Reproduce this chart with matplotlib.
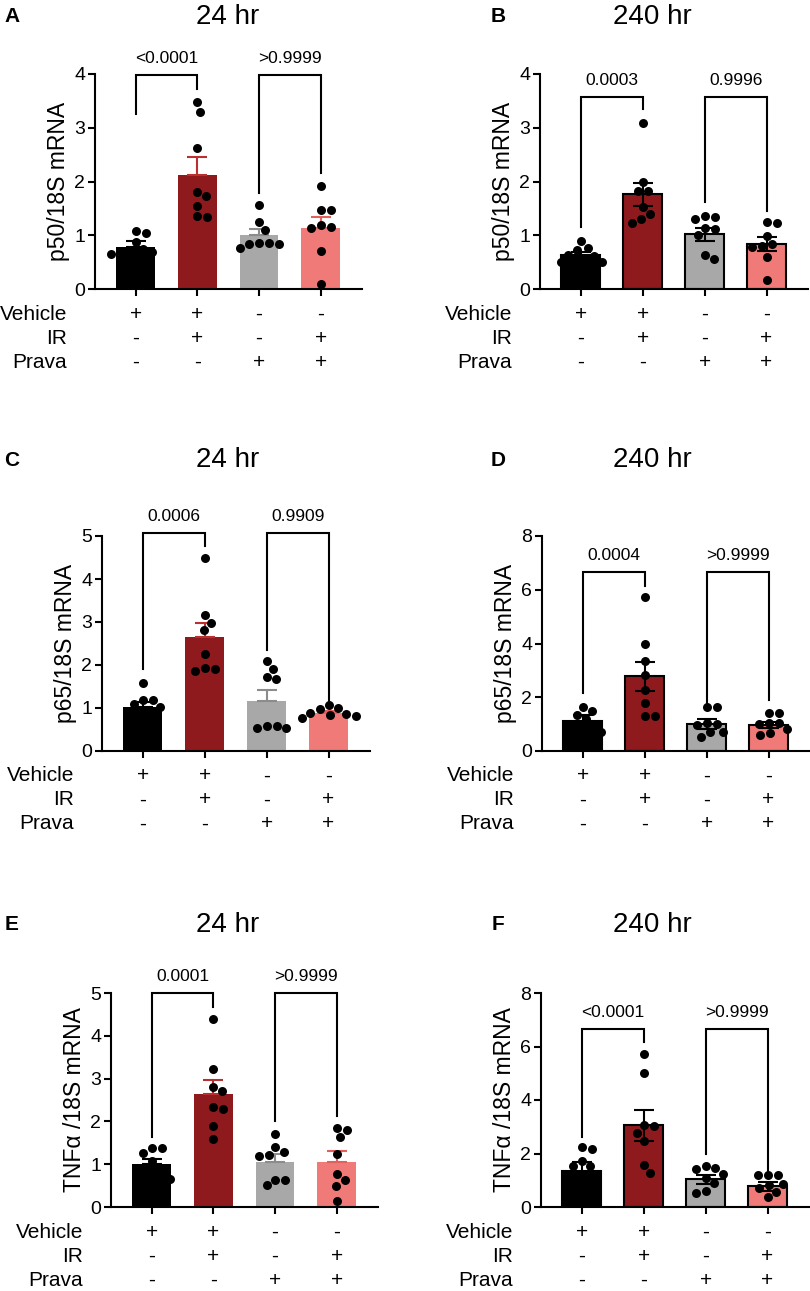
import numpy as np
import matplotlib.pyplot as plt

plt.rcParams['font.family'] = ['Liberation Sans', 'DejaVu Sans']

W, H = 810, 1291

# ---------------- data ----------------
conditions = ['Vehicle', 'IR', 'Prava']
signs = [['+', '+', '-', '-'],
         ['-', '+', '-', '+'],
         ['-', '-', '+', '+']]
bar_colors = ['#000000', '#8e1a1e', '#a8a8a8', '#f07a78']
err_colors = ['#000000', '#b8302f', '#8c8c8c', '#e2605e']

# A: p50, 24 hr
a_points = [[1.05, 1.08, 0.88, 0.75, 0.70, 0.65, 0.72, 0.68],
            [3.48, 3.30, 2.63, 1.81, 1.73, 1.55, 1.34, 1.36],
            [1.56, 1.24, 1.09, 0.83, 0.85, 0.85, 0.77, 0.84],
            [1.92, 1.47, 1.47, 1.19, 1.16, 1.13, 0.71, 0.09]]
a_means = [0.79, 2.13, 1.01, 1.13]
a_sems = [0.10, 0.32, 0.11, 0.21]
a_pvals = ['<0.0001', '>0.9999']
a_bracket = [3.98, (3.26, 3.72), (1.79, 2.16)]

# B: p50, 240 hr
b_points = [[0.77, 0.89, 0.72, 0.63, 0.61, 0.55, 0.50, 0.50],
            [3.09, 1.99, 1.83, 1.83, 1.52, 1.39, 1.23, 1.30],
            [1.34, 1.35, 1.30, 1.14, 1.11, 1.00, 0.63, 0.55],
            [1.23, 1.24, 0.99, 0.83, 0.78, 0.80, 0.60, 0.16]]
b_means = [0.63, 1.76, 1.02, 0.83]
b_sems = [0.06, 0.22, 0.12, 0.13]
b_pvals = ['0.0003', '0.9996']
b_bracket = [3.57, (1.16, 3.35), (1.62, 1.45)]

# C: p65, 24 hr
c_points = [[1.59, 1.19, 1.19, 1.09, 1.03, 0.85, 0.80, 0.75],
            [4.50, 3.16, 2.98, 2.81, 2.26, 1.87, 1.94, 1.90],
            [2.09, 1.91, 1.67, 1.71, 0.53, 0.57, 0.57, 0.54],
            [1.07, 0.97, 0.99, 0.81, 0.84, 0.76, 0.85, 0.89]]
c_means = [1.03, 2.64, 1.16, 0.88]
c_sems = [0.12, 0.34, 0.27, 0.05]
c_pvals = ['0.0006', '0.9909']
c_bracket = [5.07, (1.90, 4.77), (2.35, 1.12)]

# D: p65, 240 hr
d_points = [[1.65, 1.49, 1.34, 1.18, 0.93, 0.90, 0.80, 0.70],
            [5.72, 3.98, 3.36, 2.83, 2.27, 1.77, 1.30, 1.30],
            [1.63, 1.65, 1.05, 1.02, 0.98, 0.72, 0.70, 0.53],
            [1.43, 1.43, 0.99, 1.03, 1.03, 0.82, 0.60, 0.66]]
d_means = [1.13, 2.78, 1.00, 0.97]
d_sems = [0.21, 0.55, 0.20, 0.12]
d_pvals = ['0.0004', '>0.9999']
d_bracket = [6.66, (2.16, 6.13), (1.56, 1.90)]

# E: TNFa, 24 hr
e_points = [[1.39, 1.39, 1.26, 1.07, 0.78, 0.76, 0.70, 0.65],
            [4.40, 3.23, 2.70, 2.80, 2.29, 2.34, 1.89, 1.59],
            [1.71, 1.40, 1.29, 1.22, 1.19, 0.64, 0.64, 0.51],
            [1.85, 1.81, 1.63, 1.25, 0.76, 0.62, 0.49, 0.13]]
e_means = [1.00, 2.63, 1.05, 1.04]
e_sems = [0.13, 0.33, 0.18, 0.26]
e_pvals = ['0.0001', '>0.9999']
e_bracket = [5.00, (1.64, 4.67), (2.00, 2.13)]

# F: TNFa, 240 hr
f_points = [[2.24, 2.18, 1.71, 1.52, 1.52, 0.80, 0.60, 0.50],
            [5.73, 5.01, 3.05, 3.02, 2.78, 2.45, 1.56, 1.28],
            [1.42, 1.45, 1.52, 1.22, 1.08, 0.90, 0.54, 0.59],
            [1.18, 1.18, 1.18, 0.87, 0.81, 0.72, 0.56, 0.37]]
f_means = [1.33, 3.06, 1.03, 0.77]
f_sems = [0.35, 0.58, 0.16, 0.16]
f_pvals = ['<0.0001', '>0.9999']
f_bracket = [6.65, (2.62, 6.17), (2.00, 1.27)]


def swarm(vals, ppx, ppy, d):
    # simple beeswarm, offsets in data units along x
    vals = np.asarray(vals)
    order = np.argsort(-vals)
    placed = []
    xs = np.zeros(len(vals))
    for i in order:
        y = vals[i] * ppy
        cands = [0.0]
        for px, py in placed:
            dy = y - py
            if abs(dy) < d:
                dx = np.sqrt(d * d - dy * dy)
                cands += [px + dx, px - dx]
        cands.sort(key=abs)
        for c in cands:
            if all((c - px) ** 2 + (y - py) ** 2 >= d * d - 1e-6 for px, py in placed):
                xs[i] = c
                break
        placed.append((xs[i], y))
    return xs / ppx


def draw_panel(rect, points, means, sems, ylabel, ymax, ystep, pvals, bracket, outline):
    x0, y0, x1, y1 = rect
    ax = fig.add_axes([x0 / W, 1 - y1 / H, (x1 - x0) / W, (y1 - y0) / H])
    xlim = (-0.66, 3.67)
    ax.set_xlim(*xlim)
    ax.set_ylim(0, ymax)
    ppx = (x1 - x0) / (xlim[1] - xlim[0])
    ppy = (y1 - y0) / ymax
    x = np.arange(4)

    if outline:
        ax.bar(x, means, width=0.63, color=bar_colors, edgecolor='black', linewidth=1.5, zorder=2)
        for i in range(4):
            ax.errorbar(x[i], means[i], yerr=sems[i], fmt='none', ecolor='black',
                        elinewidth=1.5, capsize=7.5, capthick=1.5, zorder=3)
    else:
        ax.bar(x, means, width=0.63, color=bar_colors, linewidth=0, zorder=2)
        for i in range(4):
            ax.errorbar(x[i], means[i], yerr=[[0], [sems[i]]], fmt='none', ecolor=err_colors[i],
                        elinewidth=1.5, capsize=7.5, capthick=1.5, zorder=3)

    for i in range(4):
        offs = swarm(points[i], ppx, ppy, 10)
        ax.scatter(x[i] + offs, points[i], s=42, color='black', linewidths=0, zorder=4, clip_on=False)

    # significance brackets
    top, legs1, legs2 = bracket
    for (xa, xb), legs, p in zip([(0, 1), (2, 3)], [legs1, legs2], pvals):
        ax.plot([xa, xa, xb, xb], [legs[0], top, top, legs[1]], color='black', lw=1.5,
                clip_on=False, solid_joinstyle='miter', zorder=5)
        ax.annotate(p, xy=((xa + xb) / 2, top), xytext=(0, 9), textcoords='offset pixels',
                    ha='center', va='bottom', fontsize=12.5, annotation_clip=False)

    for s in ['top', 'right']:
        ax.spines[s].set_visible(False)
    for s in ['left', 'bottom']:
        ax.spines[s].set_linewidth(1.5)
    ax.spines['left'].set_bounds(0, ymax)
    ax.set_yticks(np.arange(0, ymax + 0.01, ystep))
    ax.set_yticklabels([str(int(v)) for v in np.arange(0, ymax + 0.01, ystep)])
    ax.set_xticks(x)
    ax.set_xticklabels([])
    ax.tick_params(axis='both', direction='out', length=5, width=1.5, labelsize=14, pad=2)
    ax.set_ylabel(ylabel, fontsize=16.5, labelpad=3)

    # condition table under the axis
    for r, name in enumerate(conditions):
        dy = -25 - 24 * r
        ax.annotate(name, xy=(xlim[0], 0), xycoords=ax.get_xaxis_transform(),
                    xytext=(-28, dy), textcoords='offset pixels',
                    ha='right', va='center', fontsize=15, annotation_clip=False)
        for i in range(4):
            ax.annotate(signs[r][i], xy=(x[i], 0), xycoords=ax.get_xaxis_transform(),
                        xytext=(0, dy), textcoords='offset pixels',
                        ha='center', va='center', fontsize=15, annotation_clip=False)
    return ax


fig = plt.figure(figsize=(W / 100, H / 100), dpi=100)

draw_panel((95, 74, 362, 289), a_points, a_means, a_sems, 'p50/18S mRNA', 4, 1, a_pvals, a_bracket, False)
draw_panel((540, 74, 808, 289), b_points, b_means, b_sems, 'p50/18S mRNA', 4, 1, b_pvals, b_bracket, True)
draw_panel((102, 536, 370, 751), c_points, c_means, c_sems, 'p65/18S mRNA', 5, 1, c_pvals, c_bracket, False)
draw_panel((542, 536, 810, 751), d_points, d_means, d_sems, 'p65/18S mRNA', 8, 2, d_pvals, d_bracket, True)
draw_panel((111, 993, 378, 1207), e_points, e_means, e_sems, 'TNF\u03b1 /18S mRNA', 5, 1, e_pvals, e_bracket, False)
draw_panel((541, 993, 809, 1207), f_points, f_means, f_sems, 'TNF\u03b1 /18S mRNA', 8, 2, f_pvals, f_bracket, True)

# titles and panel letters
titles = ['24 hr', '240 hr']
letters = [['A', 'B'], ['C', 'D'], ['E', 'F']]
row_y = [17, 460, 925]
title_x = [228, 652]
letter_x = [12, 498]
for r in range(3):
    for c in range(2):
        fig.text(title_x[c] / W, 1 - row_y[r] / H, titles[c], ha='center', va='center', fontsize=20)
        fig.text(letter_x[c] / W, 1 - row_y[r] / H, letters[r][c], ha='center', va='center',
                 fontsize=15, fontweight='bold')

fig.savefig('out.png', dpi=100)
